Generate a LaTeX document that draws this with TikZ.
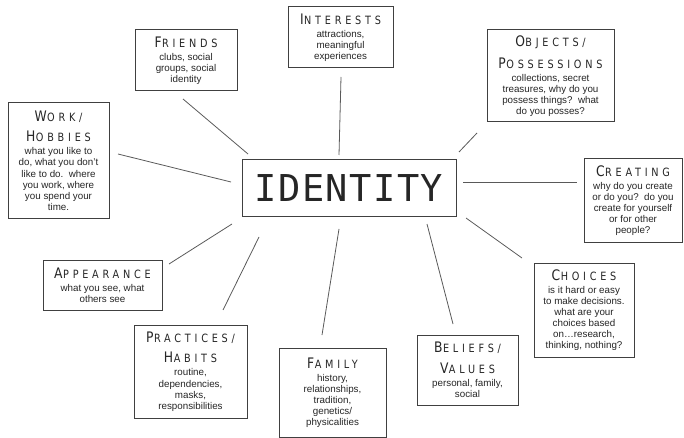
\documentclass[tikz,border=0pt]{standalone}
\usepackage{fontspec}
\setmainfont{Liberation Sans}
\newfontfamily\hf[LetterSpace=33,FakeStretch=0.85]{DejaVu Sans}
\newfontfamily\idf[LetterSpace=4]{DejaVu Sans Mono}
\newcommand\hd[2]{{\hf\fontsize{14.5}{14}\selectfont #1\kern0.5pt\fontsize{11.4}{14}\selectfont #2}}
\tikzset{
  box/.style={draw=black!75, line width=1pt, fill=white, align=center, inner sep=2pt,
    text=black!85, font=\fontsize{9.8}{11.1}\selectfont},
  spoke/.style={draw=black!65, line width=0.8pt}
}
\begin{document}
\begin{tikzpicture}[x=1pt,y=-1pt]
\useasboundingbox (0,0) rectangle (684,438);
% boxes
\node[box, minimum width=102pt, minimum height=61pt] (friends) at (186,60.5)
  {\hd{F}{RIENDS}\\[2pt]clubs, social\\groups, social\\identity};
\node[box, minimum width=101pt, minimum height=115pt] (work) at (58.5,160.5)
  {\hd{W}{ORK/}\\[8pt]\hd{H}{OBBIES}\\[2pt]what you like to\\do, what you don't\\like to do.\ \ where\\you work, where\\you spend your\\time.};
\node[box, minimum width=105pt, minimum height=61pt] (interests) at (340.5,37.5)
  {\hd{I}{NTERESTS}\\[2pt]attractions,\\meaningful\\experiences};
\node[box, minimum width=127pt, minimum height=92pt] (objects) at (550.5,76)
  {\hd{O}{BJECTS/}\\[8pt]\hd{P}{OSSESSIONS}\\[2pt]collections, secret\\treasures, why do you\\possess things?\ \ what\\do you posses?};
\node[box, minimum width=214pt, minimum height=56pt] (identity) at (349,188)
  {\idf\fontsize{37}{40}\selectfont IDENTITY};
\node[box, minimum width=98pt, minimum height=83pt] (creating) at (633,200.5)
  {\hd{C}{REATING}\\[2pt]why do you create\\or do you?\ \ do you\\create for yourself\\or for other\\people?};
\node[box, minimum width=100pt, minimum height=94pt] (choices) at (584,310)
  {\hd{C}{HOICES}\\[2pt]is it hard or easy\\to make decisions.\\what are your\\choices based\\on…research,\\thinking, nothing?};
\node[box, minimum width=119pt, minimum height=50pt] (appearance) at (102.5,285)
  {\hd{A}{PPEARANCE}\\[2pt]what you see, what\\others see};
\node[box, minimum width=113pt, minimum height=93pt] (practices) at (190.5,371.5)
  {\hd{P}{RACTICES/}\\[8pt]\hd{H}{ABITS}\\[2pt]routine,\\dependencies,\\masks,\\responsibilities};
\node[box, minimum width=107pt, minimum height=89pt] (family) at (332.5,392.5)
  {\hd{F}{AMILY}\\[2pt]history,\\relationships,\\tradition,\\genetics/\\physicalities};
\node[box, minimum width=101pt, minimum height=70pt] (beliefs) at (467.5,370)
  {\hd{B}{ELIEFS/}\\[8pt]\hd{V}{ALUES}\\[2pt]personal, family,\\social};
% spoke ends
\coordinate (f1) at (183,99);  \coordinate (f2) at (248,154);
\coordinate (w1) at (118,154); \coordinate (w2) at (231,182);
\coordinate (i1) at (341,77);  \coordinate (i2) at (339,155);
\coordinate (o1) at (477,133); \coordinate (o2) at (459,152);
\coordinate (c1) at (463,182); \coordinate (c2) at (577,182);
\coordinate (h1) at (466,218); \coordinate (h2) at (522,258);
\coordinate (b1) at (427,224); \coordinate (b2) at (453,324);
\coordinate (m1) at (339,229); \coordinate (m2) at (322,335);
\coordinate (p1) at (259,237); \coordinate (p2) at (223,310);
\coordinate (a1) at (232,224); \coordinate (a2) at (169,264);
\draw[spoke] (f1) -- (f2);
\draw[spoke] (w1) -- (w2);
\draw[spoke] (i1) -- (i2);
\draw[spoke] (o1) -- (o2);
\draw[spoke] (c1) -- (c2);
\draw[spoke] (h1) -- (h2);
\draw[spoke] (b1) -- (b2);
\draw[spoke] (m1) -- (m2);
\draw[spoke] (p1) -- (p2);
\draw[spoke] (a1) -- (a2);
\end{tikzpicture}
\end{document}
